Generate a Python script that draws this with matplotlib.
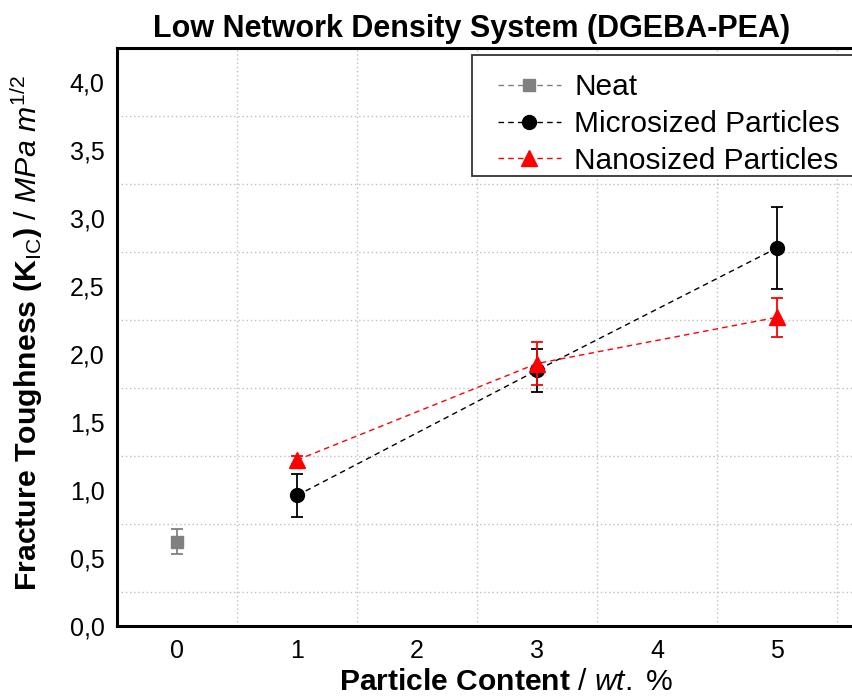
import matplotlib
matplotlib.use("Agg")
import matplotlib.pyplot as plt
from matplotlib import font_manager
from matplotlib.ticker import MultipleLocator, FuncFormatter
from matplotlib.lines import Line2D
from matplotlib.patches import Rectangle

# data
neat_x = [0]
neat_y = [0.62]
neat_err = [0.09]

micro_x = [1, 3, 5]
micro_y = [0.96, 1.88, 2.78]
micro_err = [0.155, 0.16, 0.30]

nano_x = [1, 3, 5]
nano_y = [1.22, 1.93, 2.27]
nano_err = [0.03, 0.16, 0.145]

x_ticks = [0, 1, 2, 3, 4, 5]
y_ticks = [0.0, 0.5, 1.0, 1.5, 2.0, 2.5, 3.0, 3.5, 4.0]

plt.rcParams['font.family'] = ['Liberation Sans', 'DejaVu Sans']
plt.rcParams['mathtext.fontset'] = 'custom'
plt.rcParams['mathtext.rm'] = 'Liberation Sans'
plt.rcParams['mathtext.it'] = 'Liberation Sans:italic'
plt.rcParams['mathtext.bf'] = 'Liberation Sans:bold'

installed = {f.name for f in font_manager.fontManager.ttflist}
if 'Liberation Sans Narrow' in installed:
    title_font = dict(family='Liberation Sans Narrow', size=19)
else:
    title_font = dict(family='Liberation Sans', size=22)

fig = plt.figure(figsize=(8.53, 6.99), dpi=100)
ax = fig.add_axes([117 / 853, 1 - 626 / 699, (853 - 117) / 853, (626 - 48) / 699])

dash = (0, (4, 3))
ax.errorbar(neat_x, neat_y, yerr=neat_err, color='#808080', marker='s', markersize=9,
            linestyle=dash, linewidth=1, elinewidth=1.3, capsize=4, capthick=1.3, zorder=3)
ax.errorbar(micro_x, micro_y, yerr=micro_err, color='black', marker='o', markersize=10,
            linestyle=dash, linewidth=1, elinewidth=1.3, capsize=4.5, capthick=1.3, zorder=3)
ax.errorbar(nano_x, nano_y, yerr=nano_err, color='red', marker='^', markersize=11,
            linestyle=dash, linewidth=1, elinewidth=1.3, capsize=4.5, capthick=1.3, zorder=4)

ax.set_xlim(-0.5, 5.633)
ax.set_ylim(0, 4.25)
ax.set_xticks(x_ticks)
ax.set_yticks(y_ticks)
ax.xaxis.set_minor_locator(MultipleLocator(1, offset=0.5))
ax.yaxis.set_minor_locator(MultipleLocator(0.5, offset=0.25))
ax.yaxis.set_major_formatter(FuncFormatter(lambda v, p: f"{v:.1f}".replace('.', ',')))
ax.grid(which='minor', linestyle=(0, (1, 2)), color='#c0c0c0', linewidth=1)
ax.tick_params(which='both', length=0, labelsize=18)
ax.tick_params(axis='x', pad=9)
ax.tick_params(axis='y', pad=9)

for side in ['left', 'bottom', 'top']:
    ax.spines[side].set_linewidth(2.2)
ax.spines['right'].set_visible(False)

ax.set_xlabel(r"$\mathbf{Particle\ Content}$ / $\mathit{wt.\ \%}$", fontsize=21.6)
ax.xaxis.set_label_coords(0.5285, -0.072)
ax.set_ylabel(r"$\mathbf{Fracture\ Toughness\ (K}_{\mathrm{IC}}\mathbf{)}$ / $\mathit{MPa\ m^{1/2}}$",
              fontsize=21.8)
ax.yaxis.set_label_coords(-0.098, 0.507)

fig.text(472 / 853, 1 - 29 / 699, "Low Network Density System (DGEBA-PEA)",
         ha='center', va='center', weight='bold', **title_font)

# legend box runs off the right edge like in the reference
box = Rectangle((472 / 853, 1 - 176 / 699), 0.6, 121 / 699, transform=fig.transFigure,
                facecolor='white', edgecolor='#333333', linewidth=1.3, zorder=4.9, clip_on=False)
ax.add_artist(box)

handles = [
    Line2D([], [], color='#808080', marker='s', markersize=9, linestyle=dash, linewidth=1),
    Line2D([], [], color='black', marker='o', markersize=10, linestyle=dash, linewidth=1),
    Line2D([], [], color='red', marker='^', markersize=11, linestyle=dash, linewidth=1),
]
leg = ax.legend(handles, ['Neat', 'Microsized Particles', 'Nanosized Particles'],
                loc='upper left', bbox_to_anchor=(498 / 853, 1 - 73 / 699),
                bbox_transform=fig.transFigure, borderaxespad=0, borderpad=0,
                fontsize=21.5, handlelength=2.1, handletextpad=0.45, labelspacing=0.3,
                frameon=False)
leg.set_zorder(5)

fig.savefig("out.png", dpi=100)
